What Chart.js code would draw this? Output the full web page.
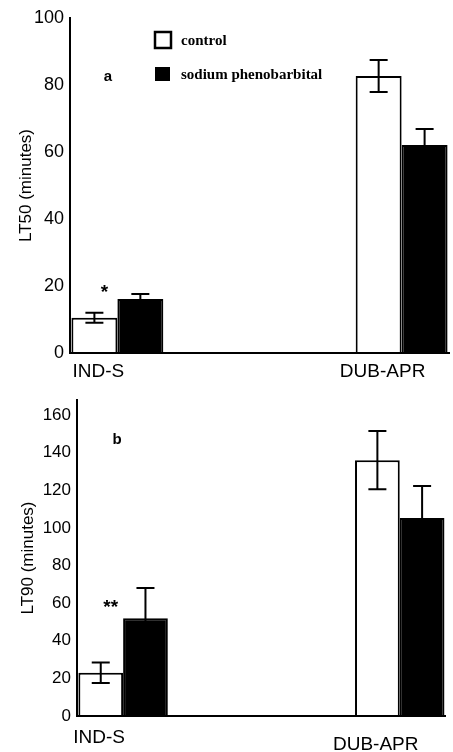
<!DOCTYPE html>
<html>
<head>
<meta charset="utf-8">
<title>LT50 / LT90</title>
<script src="https://cdn.jsdelivr.net/npm/chart.js@4.4.1/dist/chart.umd.min.js"></script>
<style>
  html, body { margin: 0; padding: 0; background: #fff; }
  #wrap { position: relative; width: 453px; height: 752px; }
  #lt50Box { position: absolute; left: 0; top: 0; }
  #lt90Box { position: absolute; left: 0; top: 380px; }
</style>
</head>
<body>
<div id="wrap">
  <div id="lt50Box"><canvas id="lt50Chart" width="453" height="380"></canvas></div>
  <div id="lt90Box"><canvas id="lt90Chart" width="453" height="372"></canvas></div>
</div>
<script>
const strains = ['IND-S', 'DUB-APR'];
const treatments = ['control', 'sodium phenobarbital'];

// panel a: LT50
const lt50Control = [10.5, 82.7];
const lt50ControlErr = [1.5, 4.8];
const lt50Pheno = [16.1, 62.1];
const lt50PhenoErr = [1.5, 4.8];
const lt50Ticks = [0, 20, 40, 60, 80, 100];

// panel b: LT90
const lt90Control = [23, 136];
const lt90ControlErr = [5.5, 15.5];
const lt90Pheno = [52, 105.3];
const lt90PhenoErr = [16, 17];
const lt90Ticks = [0, 20, 40, 60, 80, 100, 120, 140, 160];

// two empty slots between the strains to get the wide gap
const spread = (vals) => [vals[0], null, null, vals[1]];
const xLabels = spread(strains).map(s => s || '');

const errorBarPlugin = {
  id: 'errorBars',
  afterDatasetsDraw(chart) {
    const ctx = chart.ctx;
    const y = chart.scales.y;
    ctx.save();
    ctx.strokeStyle = '#000';
    ctx.lineWidth = 2;
    chart.data.datasets.forEach((ds, i) => {
      chart.getDatasetMeta(i).data.forEach((bar, j) => {
        const v = ds.data[j], e = ds.errorBars[j];
        if (v == null || e == null) return;
        const top = y.getPixelForValue(v + e);
        const bot = y.getPixelForValue(v - e);
        ctx.beginPath();
        ctx.moveTo(bar.x, top); ctx.lineTo(bar.x, bot);
        ctx.moveTo(bar.x - 9, top); ctx.lineTo(bar.x + 9, top);
        ctx.moveTo(bar.x - 9, bot); ctx.lineTo(bar.x + 9, bot);
        ctx.stroke();
      });
    });
    ctx.restore();
  }
};

const marksPlugin = {
  id: 'marks',
  afterDatasetsDraw(chart, args, opts) {
    const { ctx, chartArea, scales } = chart;
    ctx.save();
    ctx.fillStyle = '#000';
    ctx.textAlign = 'center';
    ctx.textBaseline = 'middle';
    ctx.font = 'bold 15px "Liberation Sans"';
    ctx.fillText(opts.panel, chartArea.left + opts.panelDx, chartArea.top + opts.panelDy);

    const bar = chart.getDatasetMeta(0).data[0];
    ctx.font = 'bold 19px "Liberation Sans"';
    ctx.textBaseline = 'alphabetic';
    ctx.fillText(opts.sig, bar.x + 10, scales.y.getPixelForValue(opts.sigAt) + 10);

    if (opts.legend) {
      const lx = chartArea.left + 85;
      const ly = chartArea.top + 14;
      ctx.lineWidth = 2.5;
      ctx.strokeStyle = '#000';
      ctx.fillStyle = '#fff';
      ctx.fillRect(lx, ly, 16, 16);
      ctx.strokeRect(lx, ly, 16, 16);
      ctx.fillStyle = '#000';
      ctx.fillRect(lx, ly + 35, 15, 14);
      ctx.font = 'bold 15px "Liberation Serif"';
      ctx.textAlign = 'left';
      ctx.textBaseline = 'middle';
      chart.data.datasets.forEach((ds, i) => {
        ctx.fillText(ds.label, lx + 26, ly + 9 + i * 34);
      });
    }
    ctx.restore();
  }
};

function makePanel(id, opt) {
  const ctx = document.getElementById(id).getContext('2d');
  return new Chart(ctx, {
    type: 'bar',
    data: {
      labels: xLabels,
      datasets: [{
        label: treatments[0],
        data: spread(opt.control),
        errorBars: spread(opt.controlErr),
        backgroundColor: '#ffffff',
        borderColor: '#000000',
        borderWidth: 2
      }, {
        label: treatments[1],
        data: spread(opt.pheno),
        errorBars: spread(opt.phenoErr),
        backgroundColor: '#000000',
        borderColor: '#000000',
        borderWidth: 2
      }]
    },
    options: {
      responsive: false,
      animation: false,
      layout: { padding: { top: opt.top, right: 4, left: 0, bottom: 0 } },
      categoryPercentage: 0.97,
      barPercentage: 1.0,
      plugins: {
        legend: { display: false },
        tooltip: { enabled: false },
        marks: opt.marks
      },
      scales: {
        x: {
          grid: { display: false, drawTicks: false },
          border: { display: true, color: '#000', width: 2, z: 1 },
          ticks: {
            color: '#000',
            // the scanned DUB-APR label in panel b sits a little lower
            font: (c) => ({ family: 'Liberation Sans', size: 19, lineHeight: c.index === 3 ? opt.lastLine : 1.2 }),
            padding: opt.xPad,
            labelOffset: opt.labelOffset,
            autoSkip: false,
            maxRotation: 0
          },
          afterFit: (s) => { s.height = opt.xHeight; }
        },
        y: {
          min: 0,
          max: opt.max,
          grid: { display: false, drawTicks: false },
          border: { display: true, color: '#000', width: 2 },
          afterBuildTicks: (s) => { s.ticks = opt.ticks.map(v => ({ value: v })); },
          ticks: {
            color: '#000',
            font: { family: 'Liberation Sans', size: opt.tickSize },
            padding: 6
          },
          title: {
            display: true,
            text: opt.title,
            color: '#000',
            font: { family: 'Liberation Sans', size: 17 },
            padding: { top: opt.titlePad, bottom: 0 }
          },
          afterFit: (s) => { s.width = opt.yWidth; }
        }
      }
    },
    plugins: [errorBarPlugin, marksPlugin]
  });
}

makePanel('lt50Chart', {
  control: lt50Control, controlErr: lt50ControlErr,
  pheno: lt50Pheno, phenoErr: lt50PhenoErr,
  ticks: lt50Ticks, max: 100, tickSize: 18,
  title: 'LT50 (minutes)',
  top: 18, xHeight: 27, yWidth: 70, xPad: 7, labelOffset: -19, titlePad: 16, lastLine: 1.2,
  marks: { panel: 'a', panelDx: 38, panelDy: 59, sig: '*', sigAt: 19.5, legend: true }
});

makePanel('lt90Chart', {
  control: lt90Control, controlErr: lt90ControlErr,
  pheno: lt90Pheno, phenoErr: lt90PhenoErr,
  ticks: lt90Ticks, max: 168, tickSize: 17,
  title: 'LT90 (minutes)',
  top: 20, xHeight: 36, yWidth: 77, xPad: 10, labelOffset: -24, titlePad: 18, lastLine: 2.0,
  marks: { panel: 'b', panelDx: 40, panelDy: 40, sig: '**', sigAt: 60, legend: false }
});
</script>
</body>
</html>
